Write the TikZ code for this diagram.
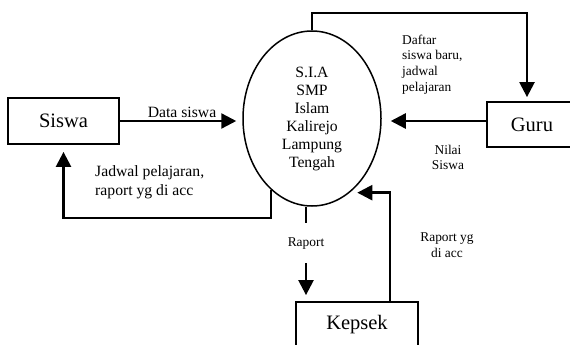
\documentclass[tikz,border=0pt]{standalone}
\usepackage{fontspec}
\setmainfont{Liberation Serif}
\usetikzlibrary{arrows.meta,shapes.geometric}
\tikzset{
  entity/.style={draw,line width=1.8pt,rectangle,inner sep=0pt,font=\fontsize{20.5}{24}\selectfont},
  proc/.style={draw,line width=1.5pt,ellipse,inner sep=0pt,minimum width=138pt,minimum height=175pt,align=center,font=\fontsize{15.7}{18}\selectfont},
  flow/.style={line width=2.4pt,-{Triangle[length=15pt,width=15pt]}},
  lblA/.style={inner sep=0pt,font=\fontsize{15.7}{19.5}\selectfont},
  lblB/.style={inner sep=0pt,font=\fontsize{13.4}{15.7}\selectfont},
}
\begin{document}
\begin{tikzpicture}[x=1pt,y=-1pt]
\useasboundingbox (0,0) rectangle (570,345);
\clip (0,0) rectangle (570,345);
\node[entity,minimum width=111pt,minimum height=46pt] (siswa) at (63.5,121) {Siswa};
\node[entity,minimum width=90pt,minimum height=45pt] (guru) at (532,124.5) {Guru};
\node[entity,minimum width=122pt,minimum height=46pt] (kepsek) at (357,325) {Kepsek};
\node[proc] (sia) at (312,118.5) {S.I.A\\SMP\\Islam\\Kalirejo\\Lampung\\Tengah};
\coordinate (c1) at (63.5,218);
\coordinate (c2) at (527,13);
% Data siswa
\draw[flow,shorten >=6pt] (siswa.east) -- (siswa.east -| sia.west);
\node[lblA] (l1) at (182,112) {Data siswa};
% Jadwal pelajaran, raport yg di acc
\draw[flow,shorten >=7pt] (sia.240) |- (c1) -- (siswa.south);
\node[lblA,anchor=west,align=left] (l2) at (95,182) {Jadwal pelajaran,\\raport yg di acc};
% Daftar siswa baru
\draw[flow,shorten >=4pt] (sia.north) |- (c2) -- (c2 |- guru.north);
\node[lblB,anchor=west,align=left] (l3) at (402,64.5) {Daftar\\siswa baru,\\jadwal\\pelajaran};
% Nilai siswa
\draw[flow,shorten >=9pt] ([yshift=3.5pt]guru.west) -- ([yshift=3.5pt]guru.west -| sia.east);
\node[lblB,align=center] (l4) at (448,157.5) {Nilai\\Siswa};
% Raport
\draw[flow,shorten >=6pt] ([xshift=-6pt]sia.south) -- node[pos=0.385,fill=white,inner sep=0pt,minimum height=40pt,lblB] (l5) {Raport} ([xshift=-51pt]kepsek.north);
% Raport yg di acc
\draw[flow,shorten >=7.5pt] ([xshift=33pt]kepsek.north) |- (sia.297);
\node[lblB,align=center] (l6) at (447,245) {Raport yg\\di acc};
\end{tikzpicture}
\end{document}
